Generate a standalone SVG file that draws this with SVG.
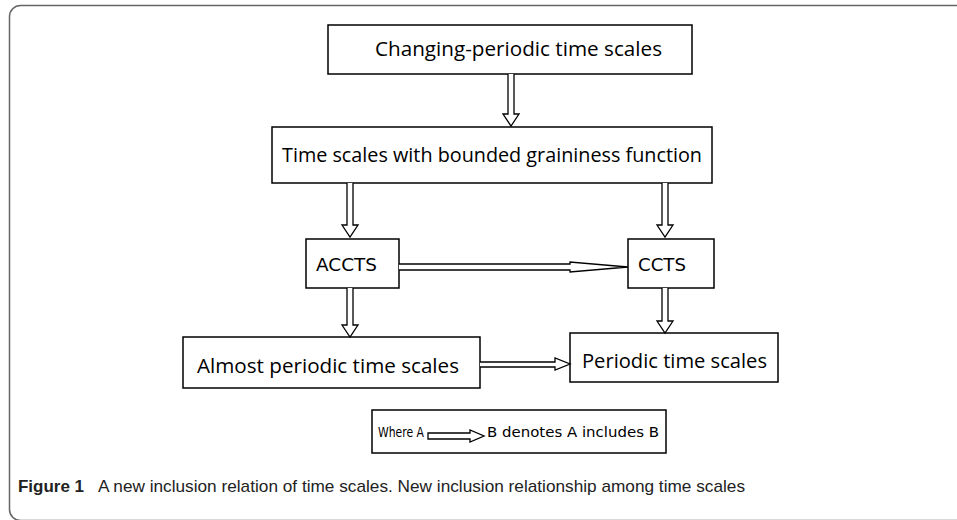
<svg xmlns="http://www.w3.org/2000/svg" width="957" height="520" viewBox="0 0 957 520">
<defs>
<style>
.box{fill:#fff;stroke:#000;stroke-width:1.5}
.t{font-family:"Open Sans","Liberation Sans",sans-serif;font-size:20px;fill:#000}
.s{font-family:"DejaVu Sans","Liberation Sans",sans-serif;font-size:17px;fill:#000}
.lg{font-family:"DejaVu Sans","Liberation Sans",sans-serif;font-size:14px;fill:#000}
.arr{fill:#fff;stroke:#000;stroke-width:1.3;stroke-linejoin:miter}
.cap{font-family:"Liberation Sans",sans-serif;font-size:17px;fill:#222}
</style>
</defs>
<rect x="9.5" y="5.5" width="980" height="515" rx="11" fill="none" stroke="#666" stroke-width="1.5"/>
<g id="n1"><rect class="box" x="328" y="25" width="364" height="49"/><text class="t" x="375" y="56" textLength="287" lengthAdjust="spacingAndGlyphs">Changing-periodic time scales</text></g>
<g id="n2"><rect class="box" x="272" y="127" width="440" height="56"/><text class="t" x="282" y="162" textLength="420" lengthAdjust="spacingAndGlyphs">Time scales with bounded graininess function</text></g>
<g id="n3"><rect class="box" x="306" y="239" width="93" height="49"/><text class="s" x="316" y="271" textLength="61" lengthAdjust="spacingAndGlyphs">ACCTS</text></g>
<g id="n4"><rect class="box" x="628" y="239" width="86" height="49"/><text class="s" x="638" y="271" textLength="48" lengthAdjust="spacingAndGlyphs">CCTS</text></g>
<g id="n5"><rect class="box" x="183" y="337" width="297" height="51"/><text class="t" x="197" y="373" textLength="262" lengthAdjust="spacingAndGlyphs">Almost periodic time scales</text></g>
<g id="n6"><rect class="box" x="570" y="333" width="208" height="49"/><text class="t" x="582" y="368" textLength="185" lengthAdjust="spacingAndGlyphs">Periodic time scales</text></g>
<g id="legend"><rect class="box" x="372" y="410" width="294" height="43"/><text class="lg" x="378" y="437" textLength="46" lengthAdjust="spacingAndGlyphs">Where A</text><path class="arr" d="M428,433 H470 V430 L484,436 L470,442 V439 H428 Z"/><text class="lg" x="487" y="437" textLength="172" lengthAdjust="spacingAndGlyphs">B denotes A includes B</text></g>
<g id="connectors">
<path class="arr" d="M508,74 V114 H503 L511,126 L519,114 H514 V74"/>
<path class="arr" d="M347,183 V225 H342 L350,237 L358,225 H353 V183"/>
<path class="arr" d="M662,183 V225 H657 L665,237 L673,225 H668 V183"/>
<path class="arr" d="M347,288 V325 H342 L350,337 L358,325 H353 V288"/>
<path class="arr" d="M662,288 V321 H657 L665,333 L673,321 H668 V288"/>
<path class="arr" d="M399,264 H570 V262 L628,267 L570,272 V270 H399"/>
<path class="arr" d="M480,362 H555 V358 L570,364 L555,370 V367 H480"/>
</g>
<text class="cap" x="18" y="492" font-weight="bold" fill="#000" textLength="66" lengthAdjust="spacingAndGlyphs">Figure 1</text>
<text class="cap" x="98" y="492" textLength="647" lengthAdjust="spacingAndGlyphs">A new inclusion relation of time scales. New inclusion relationship among time scales</text>
</svg>
